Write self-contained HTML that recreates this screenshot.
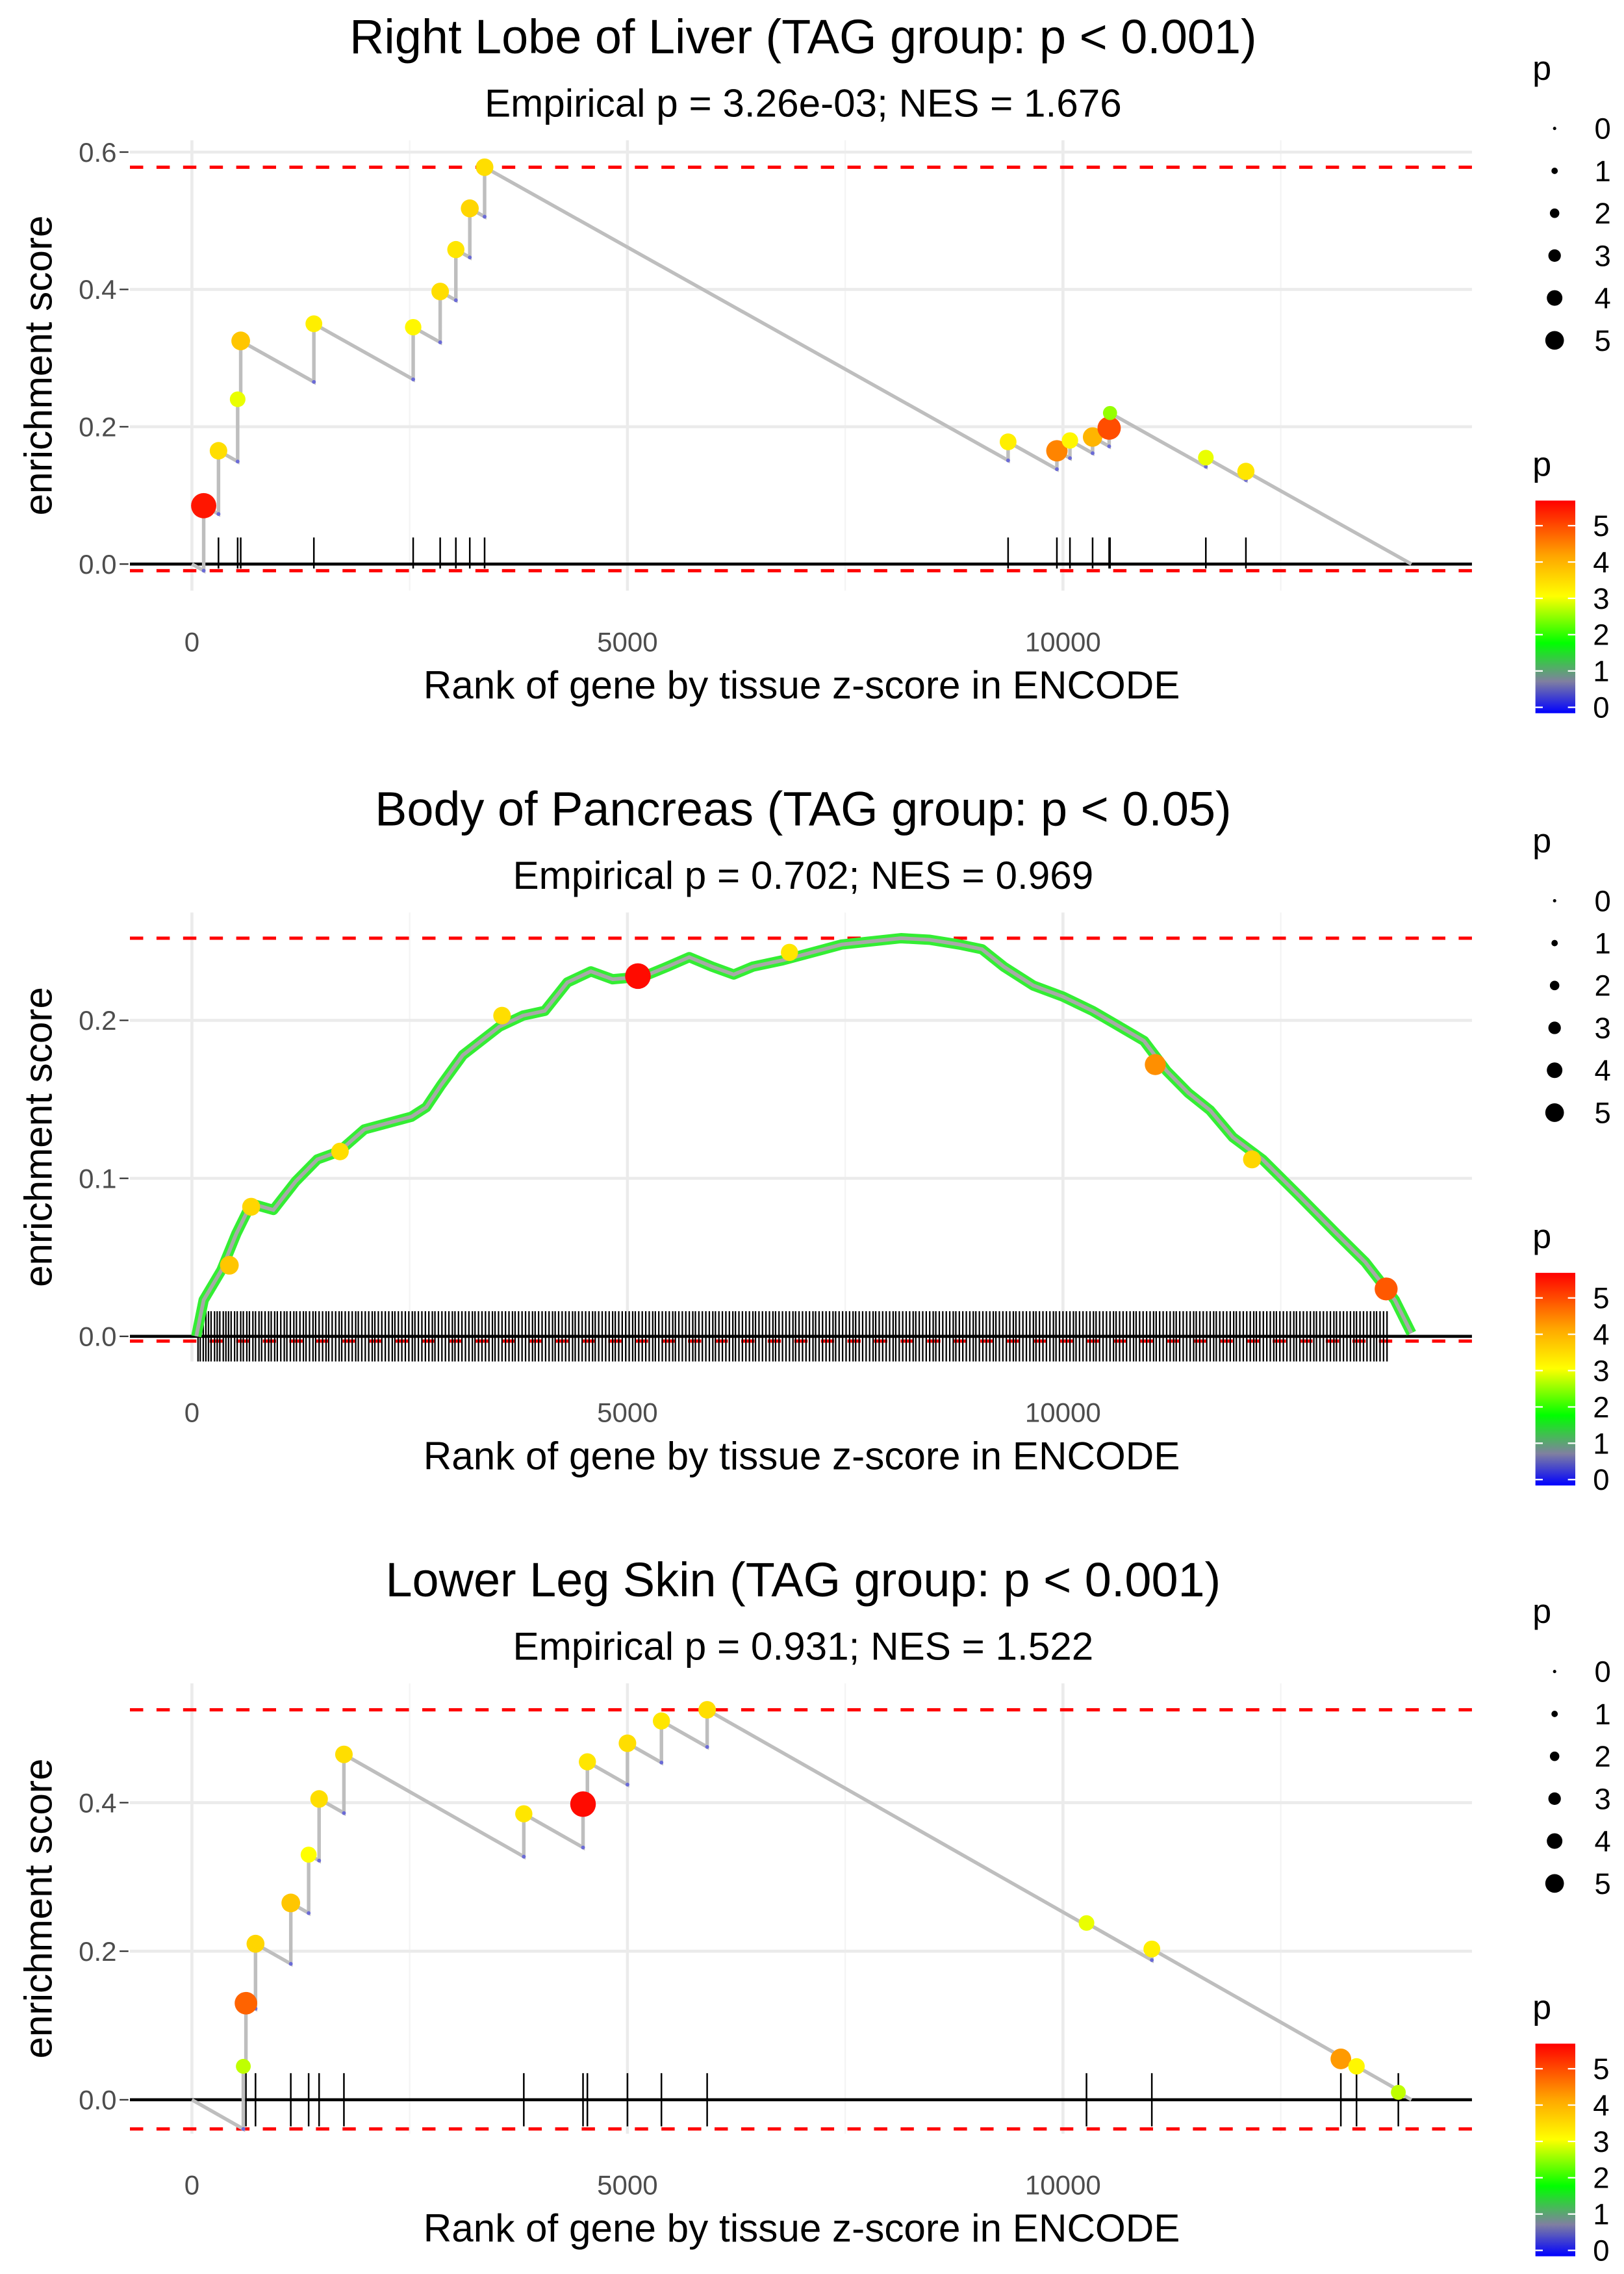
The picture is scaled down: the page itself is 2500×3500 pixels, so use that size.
<!DOCTYPE html>
<html><head><meta charset="utf-8"><style>
html,body{margin:0;padding:0;background:#fff}
svg{display:block}
text{font-family:"Liberation Sans",Arial,sans-serif}
</style></head><body>
<svg id="fig" width="2500" height="3500" viewBox="0 0 1100 1540" xmlns="http://www.w3.org/2000/svg">
<defs>
<linearGradient id="pgrad" x1="0" y1="1" x2="0" y2="0">
<stop offset="0" stop-color="#0000ff"/><stop offset="0.15" stop-color="#8080a0"/>
<stop offset="0.33" stop-color="#00ff00"/><stop offset="0.55" stop-color="#ffff00"/>
<stop offset="0.74" stop-color="#ffa500"/><stop offset="1" stop-color="#ff0000"/>
</linearGradient>
</defs>
</svg>
<script>
// ---- Panel 1 data: Right Lobe of Liver ----
const p1Ranks = [135,305,525,560,1400,2540,2850,3030,3190,3360,9370,9930,10080,10340,10530,10540,11640,12100];
const p1ES    = [0.085,0.165,0.24,0.325,0.35,0.345,0.397,0.458,0.518,0.578,0.178,0.165,0.18,0.185,0.198,0.22,0.155,0.135];
const p1P     = [5.5,3.5,3.0,3.8,3.3,3.2,3.5,3.4,3.6,3.5,3.3,4.5,3.2,4.0,5.0,2.6,3.0,3.4];
const p1Ticks = [0,0.2,0.4,0.6];
// ---- Panel 2 data: Body of Pancreas ----
const p2CurveRanks = [50,135,340,510,680,935,1190,1440,1690,1980,2520,2690,2860,3110,3530,3800,4050,4310,4580,4830,5030,5240,5460,5710,5970,6220,6440,6780,7120,7460,7800,8140,8470,8810,9070,9320,9660,10000,10340,10590,10930,11190,11440,11690,11950,12290,12710,13140,13470,13810,14000];
const p2CurveES    = [0,0.023,0.042,0.065,0.084,0.08,0.098,0.112,0.117,0.131,0.139,0.145,0.159,0.178,0.196,0.203,0.206,0.224,0.231,0.226,0.227,0.229,0.234,0.24,0.234,0.229,0.234,0.238,0.243,0.248,0.25,0.252,0.251,0.248,0.245,0.234,0.222,0.215,0.206,0.198,0.187,0.168,0.154,0.143,0.126,0.112,0.089,0.065,0.047,0.023,0.002];
const p2BigRanks = [430,680,1700,3560,5120,6860,11060,12170,13710];
const p2BigES    = [0.045,0.082,0.117,0.203,0.228,0.243,0.172,0.112,0.03];
const p2BigP     = [3.8,3.6,3.5,3.5,5.6,3.4,4.4,3.6,4.9];
const p2Rug = [70,95,130,160,190,220,260,290,320,360,390,420,450,490,520,560,590,630,660,700,730,770,800,840,880,910,950,980,1020,1060,1090,1130,1170,1200,1240,1280,1310,1350,1390,1420,1460,1500,1540,1570,1610,1650,1690,1720,1760,1800,1840,1880,1910,1950,1990,2030,2070,2100,2140,2180,2220,2260,2300,2330,2370,2410,2450,2490,2530,2560,2600,2640,2680,2720,2760,2790,2830,2870,2910,2950,2990,3020,3060,3100,3140,3180,3220,3250,3290,3330,3370,3410,3450,3480,3520,3560,3600,3640,3680,3710,3750,3790,3830,3870,3910,3940,3980,4020,4060,4100,4140,4170,4210,4250,4290,4330,4370,4400,4440,4480,4520,4560,4600,4630,4670,4710,4750,4790,4830,4860,4900,4940,4980,5020,5060,5090,5130,5170,5210,5250,5290,5320,5360,5400,5440,5480,5520,5550,5590,5630,5670,5710,5750,5780,5820,5860,5900,5940,5980,6010,6050,6090,6130,6170,6210,6240,6280,6320,6360,6400,6440,6470,6510,6550,6590,6630,6670,6700,6740,6780,6820,6860,6900,6930,6970,7010,7050,7090,7130,7160,7200,7240,7280,7320,7360,7390,7430,7470,7510,7550,7590,7620,7660,7700,7740,7780,7820,7850,7890,7930,7970,8010,8050,8080,8120,8160,8200,8240,8280,8310,8350,8390,8430,8470,8510,8540,8580,8620,8660,8700,8740,8770,8810,8850,8890,8930,8970,9000,9040,9080,9120,9160,9200,9230,9270,9310,9350,9390,9430,9460,9500,9540,9580,9620,9660,9690,9730,9770,9810,9850,9890,9920,9960,10000,10040,10080,10120,10150,10190,10230,10270,10310,10350,10380,10420,10460,10500,10540,10580,10610,10650,10690,10730,10770,10810,10840,10880,10920,10960,11000,11040,11070,11110,11150,11190,11230,11270,11300,11340,11380,11420,11460,11500,11530,11570,11610,11650,11690,11730,11760,11800,11840,11880,11920,11960,11990,12030,12070,12110,12150,12190,12220,12260,12300,12340,12380,12420,12450,12490,12530,12570,12610,12650,12680,12720,12760,12800,12840,12880,12910,12950,12990,13030,13070,13110,13140,13180,13220,13260,13300,13340,13370,13410,13450,13490,13530,13570,13600,13640,13680,13720];
const p2Ticks = [0,0.1,0.2];
// ---- Panel 3 data: Lower Leg Skin ----
const p3Ranks = [590,620,730,1135,1340,1460,1745,3810,4490,4540,5000,5390,5915,10270,11020,13190,13370,13850];
const p3ES    = [0.045,0.13,0.21,0.265,0.33,0.405,0.465,0.385,0.398,0.455,0.48,0.51,0.525,0.238,0.203,0.055,0.045,0.01];
const p3P     = [2.8,4.8,3.6,3.8,3.1,3.5,3.5,3.4,5.6,3.4,3.5,3.4,3.5,3.0,3.3,4.3,3.2,2.8];
const p3Ticks = [0,0.2,0.4];
const xTicks = [0,5000,10000];
const legendSizes = [0,1,2,3,4,5];
const N = 14000;

const NS = "http://www.w3.org/2000/svg";
const svg = document.getElementById('fig');
function mk(tag, attrs, parent){const e=document.createElementNS(NS,tag);for(const k in attrs)e.setAttribute(k,attrs[k]);(parent||svg).appendChild(e);return e;}
const X0=88, X1=997;
function xs(r){return 130 + r*0.059;}
function lerp(a,b,t){return Math.round(a+(b-a)*t);}
const stops=[[0,[0,0,255]],[0.85,[128,128,160]],[1.9,[0,255,0]],[3.1,[255,255,0]],[4.2,[255,165,0]],[5.7,[255,0,0]]];
function pcol(p){for(let i=0;i<stops.length-1;i++){const a=stops[i],b=stops[i+1];if(p<=b[0]){const t=(p-a[0])/(b[0]-a[0]);return `rgb(${lerp(a[1][0],b[1][0],t)},${lerp(a[1][1],b[1][1],t)},${lerp(a[1][2],b[1][2],t)})`;}}return 'rgb(255,0,0)';}
function prad(p){return 1.4+p*1.3;}

function frame(cfg){
  const g=mk('g',{});
  
  
  const ys=v=>cfg.y0 - v*cfg.k;
  [2500,7500,12500].forEach(r=>mk('line',{x1:xs(r),x2:xs(r),y1:cfg.top,y2:cfg.bot,stroke:'#f4f4f4','stroke-width':1},g));
  xTicks.forEach(r=>{const l=mk('line',{x1:xs(r),x2:xs(r),y1:cfg.top,y2:cfg.bot,stroke:'#ebebeb','stroke-width':2},g);});
  cfg.ticks.forEach(v=>{
    const l=mk('line',{x1:X0,x2:X1,y1:ys(v),y2:ys(v),stroke:'#ebebeb','stroke-width':2},g);
    
    const t=mk('text',{x:79,y:ys(v)+6.5,'text-anchor':'end','font-size':18.5,fill:'#4d4d4d'},g);t.textContent=v.toFixed(1);
    
    mk('line',{x1:81,x2:87,y1:ys(v),y2:ys(v),stroke:'#333','stroke-width':1},g);
  });
  xTicks.forEach(r=>{const t=mk('text',{x:xs(r),y:cfg.bot+41,'text-anchor':'middle','font-size':18.5,fill:'#4d4d4d'},g);t.textContent=r;
    });
  const tt=mk('text',{x:544,y:cfg.titleY,'text-anchor':'middle','font-size':32.5,fill:'#000'},g);tt.textContent=cfg.title;
  
  const st=mk('text',{x:544,y:cfg.titleY+43,'text-anchor':'middle','font-size':26.5,fill:'#000'},g);st.textContent=cfg.sub;
  
  const xt=mk('text',{x:543,y:cfg.bot+73,'text-anchor':'middle','font-size':26.5,fill:'#000'},g);xt.textContent='Rank of gene by tissue z-score in ENCODE';
  
  const yc=(cfg.top+cfg.bot)/2;
  const yt=mk('text',{x:35,y:yc,'text-anchor':'middle','font-size':26.5,fill:'#000',transform:`rotate(-90 35 ${yc})`},g);yt.textContent='enrichment score';
  
  const o=cfg.titleY-35;
  const lp=mk('text',{x:1038,y:53+o,'font-size':23,fill:'#000'},g);lp.textContent='p';
  
  legendSizes.forEach((s,i)=>{const yy=86+i*28.7+o;
    const c=mk('circle',{cx:1053,cy:yy,r:prad(s)*0.8,fill:'#000'},g);
    const t=mk('text',{x:1080,y:yy+7,'font-size':20,fill:'#000'},g);t.textContent=s;});
  const cp=mk('text',{x:1038,y:321+o,'font-size':23,fill:'#000'},g);cp.textContent='p';
  
  const bar=mk('rect',{x:1040,y:338+o,width:27,height:144,fill:'url(#pgrad)'},g);
  
  legendSizes.forEach((s,i)=>{const yy=478-s*24.6+o;
    mk('line',{x1:1040,x2:1045,y1:yy,y2:yy,stroke:'#fff','stroke-width':1},g);mk('line',{x1:1062,x2:1067,y1:yy,y2:yy,stroke:'#fff','stroke-width':1},g);
    const t=mk('text',{x:1079,y:yy+7,'font-size':20,fill:'#000'},g);t.textContent=s;});
  return {g,ys};
}

function stepPanel(cfg, ranks, es, ps){
  const {g,ys}=frame(cfg);
  const slope = es[es.length-1]/(N - ranks[ranks.length-1]);
  let prevR=0, prevE=0; const pts=[[0,0]]; const bottoms=[];
  ranks.forEach((r,i)=>{const b=prevE - slope*(r-prevR); pts.push([r,b]); bottoms.push([r,b]); pts.push([r,es[i]]); prevR=r; prevE=es[i];});
  pts.push([N,0]);
  const minE=Math.min(0,...bottoms.map(b=>b[1])), maxE=Math.max(...es);
  [maxE,minE].forEach(v=>{const l=mk('line',{x1:X0,x2:X1,y1:ys(v),y2:ys(v),stroke:'#ff0000','stroke-width':2.2,'stroke-dasharray':'9,9'},g);
    });
  mk('line',{x1:X0,x2:X1,y1:cfg.y0,y2:cfg.y0,stroke:'#000','stroke-width':2},g);
  ranks.forEach(r=>{const l=mk('line',{x1:xs(r),x2:xs(r),y1:cfg.rugTop,y2:cfg.rugBot,stroke:'#000','stroke-width':1.1},g);
    });
  const line=mk('polyline',{points:pts.map(p=>xs(p[0])+','+ys(p[1])).join(' '),fill:'none',stroke:'#bebebe','stroke-width':2.4},g);
  
  bottoms.forEach(b=>mk('circle',{cx:xs(b[0]),cy:ys(b[1]),r:1.3,fill:'#6b6bd6'},g));
  ranks.forEach((r,i)=>{const c=mk('circle',{cx:xs(r),cy:ys(es[i]),r:prad(ps[i]),fill:pcol(ps[i])},g);
    });
}

stepPanel({name:'right-lobe-liver',y0:382,k:465,top:95,bot:400,titleY:36,ticks:p1Ticks,rugTop:364,rugBot:385,
  title:'Right Lobe of Liver (TAG group: p < 0.001)',sub:'Empirical p = 3.26e-03; NES = 1.676'},p1Ranks,p1ES,p1P);

(function(){
  const cfg={name:'body-pancreas',y0:905,k:1070,top:618,bot:922,titleY:559,ticks:p2Ticks,
    title:'Body of Pancreas (TAG group: p < 0.05)',sub:'Empirical p = 0.702; NES = 0.969'};
  const {g,ys}=frame(cfg);
  const maxE=Math.max(...p2CurveES);
  [maxE,-0.003].forEach(v=>{const l=mk('line',{x1:X0,x2:X1,y1:ys(v),y2:ys(v),stroke:'#ff0000','stroke-width':2.2,'stroke-dasharray':'9,9'},g);
    });
  p2Rug.forEach(r=>{const l=mk('line',{x1:xs(r),x2:xs(r),y1:888,y2:922,stroke:'#000','stroke-width':1},g);
    });
  mk('line',{x1:X0,x2:X1,y1:cfg.y0,y2:cfg.y0,stroke:'#000','stroke-width':2},g);
  const pts=p2CurveRanks.map((r,i)=>xs(r)+','+ys(p2CurveES[i])).join(' ');
  const gl=mk('polyline',{points:pts,fill:'none',stroke:'#33ee33','stroke-width':7,'stroke-linejoin':'round'},g);
  
  const line=mk('polyline',{points:pts,fill:'none',stroke:'#a8a8a8','stroke-width':2.5},g);
  
  p2BigRanks.forEach((r,i)=>{const c=mk('circle',{cx:xs(r),cy:ys(p2BigES[i]),r:prad(p2BigP[i]),fill:pcol(p2BigP[i])},g);
    });
})();

stepPanel({name:'lower-leg-skin',y0:1422,k:503,top:1140,bot:1445,titleY:1081,ticks:p3Ticks,rugTop:1404,rugBot:1440,
  title:'Lower Leg Skin (TAG group: p < 0.001)',sub:'Empirical p = 0.931; NES = 1.522'},p3Ranks,p3ES,p3P);
</script>
</body></html>
